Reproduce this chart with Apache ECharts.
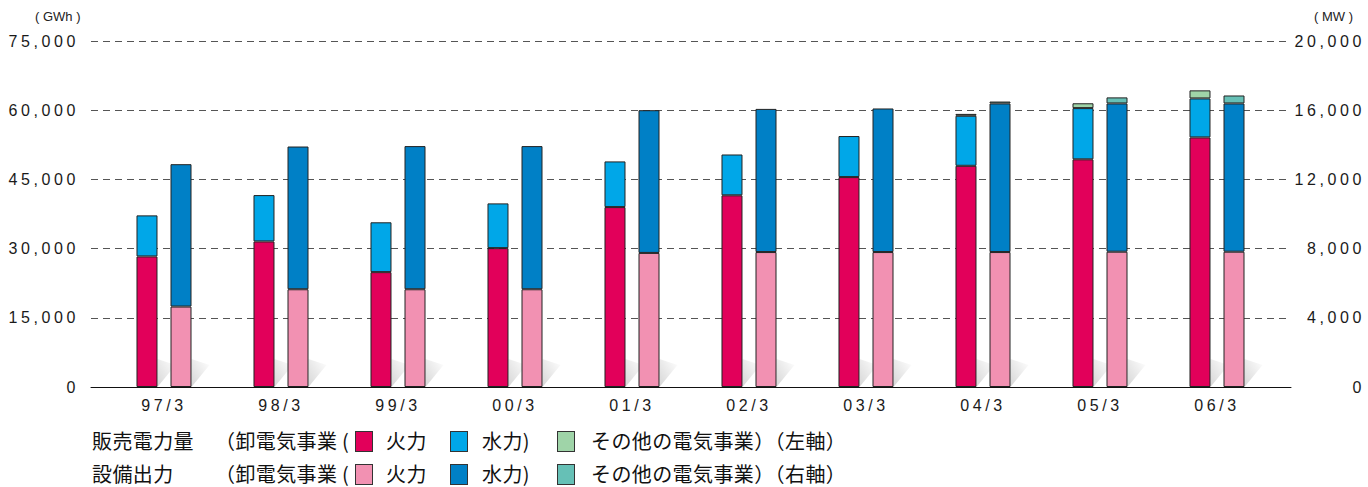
<!DOCTYPE html>
<html lang="ja">
<head>
<meta charset="UTF-8" />
<title>販売電力量・設備出力</title>
<style>
  body { margin: 0; padding: 0; background: #fff; }
  .wrap { position: relative; width: 1368px; height: 487px; }
  .chart { width: 1368px; height: 487px; }
  /* spaced-out digits like the original */
  .chart svg text { letter-spacing: 3.6px; }
  .unit { position: absolute; top: 9px; font: 13px 'Liberation Sans', Arial, sans-serif; color: #222; white-space: pre; }
  .legend span { position: absolute; font: 20px 'Noto Sans CJK JP', sans-serif; letter-spacing: 0.4px; color: #111; line-height: 24px; white-space: nowrap; }
  .legend i { position: absolute; width: 18px; height: 21px; border: 1px solid #333; box-sizing: border-box; }
</style>
</head>
<body>
<div class="wrap">
  <div class="chart" id="chart"></div>
  <div class="unit" style="left:35px">( GWh )</div>
  <div class="unit" style="left:1314px">( MW )</div>
  <div class="legend" id="legend"></div>
</div>
<script src="https://cdn.jsdelivr.net/npm/echarts@6/dist/echarts.min.js"></script>
<script>
const categories = ['97/3', '98/3', '99/3', '00/3', '01/3', '02/3', '03/3', '04/3', '05/3', '06/3'];

// 販売電力量 (GWh, left axis)
const salesThermal = [28300, 31550, 24900, 30100, 39000, 41550, 45500, 47950, 49350, 54100];
const salesHydro = [8900, 10050, 10800, 9700, 9900, 8850, 8900, 10850, 11100, 8450];
const salesOther = [0, 0, 0, 0, 0, 0, 0, 400, 1050, 1750];

// 設備出力 (MW, right axis)
const capThermal = [4650, 5650, 5650, 5650, 7750, 7800, 7800, 7800, 7820, 7820];
const capHydro = [8230, 8250, 8275, 8275, 8250, 8275, 8300, 8590, 8570, 8570];
const capOther = [0, 0, 0, 0, 0, 0, 0, 110, 350, 460];

const leftTicks = { min: 0, max: 75000, interval: 15000 };
const rightTicks = { min: 0, max: 20000, interval: 4000 };

const colors = {
  salesThermal: '#e2005a', salesHydro: '#00a7e8', salesOther: '#9fd4a8',
  capThermal: '#f291b2', capHydro: '#0080c6', capOther: '#66c0b6'
};

// legend rows (html)
const legendRows = [
  { title: '販売電力量', keys: ['salesThermal', 'salesHydro', 'salesOther'], axis: '左軸', top: 429 },
  { title: '設備出力', keys: ['capThermal', 'capHydro', 'capOther'], axis: '右軸', top: 462 }
];
const legend = document.getElementById('legend');
legendRows.forEach(r => {
  const parts = [
    ['t', r.title, 92], ['t', '（卸電気事業', 215], ['t', '(', 342],
    ['s', r.keys[0], 355], ['t', '火力', 386],
    ['s', r.keys[1], 450], ['t', '水力)', 482],
    ['s', r.keys[2], 557], ['t', 'その他の電気事業）（' + r.axis + '）', 591]
  ];
  parts.forEach(([kind, v, x]) => {
    const el = document.createElement(kind === 't' ? 'span' : 'i');
    el.style.left = x + 'px';
    if (kind === 't') {
      el.textContent = v;
      el.style.top = r.top + 'px';
    } else {
      el.style.background = colors[v];
      el.style.top = (r.top + 2) + 'px';
    }
    legend.appendChild(el);
  });
});

const axisFont = { fontFamily: "'Liberation Sans', Arial, sans-serif", fontSize: 16, color: '#1a1a1a' };
const nonZero = arr => arr.map(v => (v ? v : null));

const barBase = {
  type: 'bar', xAxisIndex: 1, barWidth: 21, barGap: '62%', z: 3,
  itemStyle: { borderColor: '#222', borderWidth: 1 }
};

const shadowFill = new echarts.graphic.LinearGradient(0, 1, 1, 0, [
  { offset: 0, color: 'rgba(0,0,0,0.16)' },
  { offset: 1, color: 'rgba(0,0,0,0)' }
]);

const chart = echarts.init(document.getElementById('chart'), null, { renderer: 'svg' });
chart.setOption({
  animation: false,
  grid: [
    { left: 91, right: 76, top: 41, bottom: 100 },
    { left: 105.5, right: 92.5, top: 41, bottom: 100 }
  ],
  xAxis: [
    {
      gridIndex: 0, type: 'category', data: categories,
      axisLine: { lineStyle: { color: '#111', width: 1 } },
      axisTick: { show: false }, axisLabel: { show: false }
    },
    {
      gridIndex: 1, type: 'category', data: categories,
      axisLine: { show: false }, axisTick: { show: false },
      axisLabel: { ...axisFont, margin: 10 }
    }
  ],
  yAxis: [
    {
      gridIndex: 0, type: 'value', position: 'left', ...leftTicks,
      axisLine: { show: false }, axisTick: { show: false },
      axisLabel: { ...axisFont, margin: 12, formatter: v => v.toLocaleString('en-US') },
      splitLine: { lineStyle: { color: '#555', type: [7, 5], width: 1 } }
    },
    {
      gridIndex: 0, type: 'value', position: 'right', ...rightTicks,
      axisLine: { show: false }, axisTick: { show: false },
      axisLabel: { ...axisFont, margin: 74, align: 'right', formatter: v => v.toLocaleString('en-US') },
      splitLine: { show: false }
    },
    { gridIndex: 1, type: 'value', ...leftTicks, show: false },
    { gridIndex: 1, type: 'value', ...rightTicks, show: false }
  ],
  series: [
    {
      type: 'custom', xAxisIndex: 1, yAxisIndex: 2, z: 1,
      data: categories.map((c, i) => i),
      renderItem: (params, api) => {
        const [cx, y0] = api.coord([api.value(0), 0]);
        return {
          type: 'group',
          children: [-6.5, 27.5].map(dx => ({
            type: 'polygon',
            shape: { points: [[cx + dx, y0], [cx + dx + 18, y0 - 22], [cx + dx, y0 - 28]] },
            style: { fill: shadowFill }
          }))
        };
      }
    },
    { ...barBase, name: '火力', yAxisIndex: 2, stack: 'sales', data: salesThermal, itemStyle: { ...barBase.itemStyle, color: colors.salesThermal } },
    { ...barBase, name: '水力', yAxisIndex: 2, stack: 'sales', data: salesHydro, itemStyle: { ...barBase.itemStyle, color: colors.salesHydro } },
    { ...barBase, name: 'その他の電気事業', yAxisIndex: 2, stack: 'sales', data: nonZero(salesOther), itemStyle: { ...barBase.itemStyle, color: colors.salesOther } },
    { ...barBase, name: '火力(設備)', yAxisIndex: 3, stack: 'cap', data: capThermal, itemStyle: { ...barBase.itemStyle, color: colors.capThermal } },
    { ...barBase, name: '水力(設備)', yAxisIndex: 3, stack: 'cap', data: capHydro, itemStyle: { ...barBase.itemStyle, color: colors.capHydro } },
    { ...barBase, name: 'その他(設備)', yAxisIndex: 3, stack: 'cap', data: nonZero(capOther), itemStyle: { ...barBase.itemStyle, color: colors.capOther } }
  ]
});
</script>
</body>
</html>
